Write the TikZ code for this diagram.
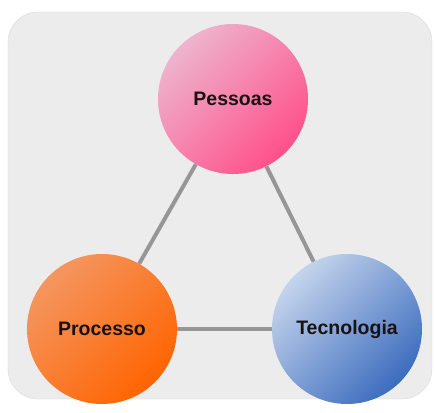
\documentclass[tikz,border=0pt]{standalone}
\usepackage{fontspec}
\setmainfont{Liberation Sans}
\definecolor{fundo}{RGB}{236,236,236}
\definecolor{borda}{RGB}{218,218,218}
\definecolor{linha}{RGB}{150,150,150}
\definecolor{rosaA}{RGB}{238,180,205}
\definecolor{rosaB}{RGB}{255,80,138}
\definecolor{laranjaA}{RGB}{244,150,96}
\definecolor{laranjaB}{RGB}{255,100,0}
\definecolor{azulA}{RGB}{196,212,236}
\definecolor{azulB}{RGB}{60,108,190}
\definecolor{texto}{RGB}{25,18,18}
\begin{document}
\begin{tikzpicture}[x=1pt,y=-1pt,
    bola/.style={circle, minimum size=150pt, inner sep=0pt,
        font=\fontsize{19.5}{22}\selectfont\bfseries, text=texto},
    liga/.style={draw=linha, line width=4pt}]
                \useasboundingbox (0,0) rectangle (435,412);
                \draw [borda, fill=fundo, rounded corners=30pt] (8,12) rectangle (432,399);
                \node [bola, left color=rosaA, right color=rosaB, shading angle=45] (pessoas) at (233,99) {Pessoas};
                \node [bola, left color=laranjaA, right color=laranjaB, shading angle=45] (processo) at (102,329) {Processo};
                \node [bola, left color=azulA, right color=azulB, shading angle=45] (tecnologia) at (347,329) {Tecnologia};
                \draw [liga] (pessoas) -- (processo);
                \draw [liga] (pessoas) -- (tecnologia);
                \draw [liga] (processo) -- (tecnologia);
            \end{tikzpicture}
\end{document}
